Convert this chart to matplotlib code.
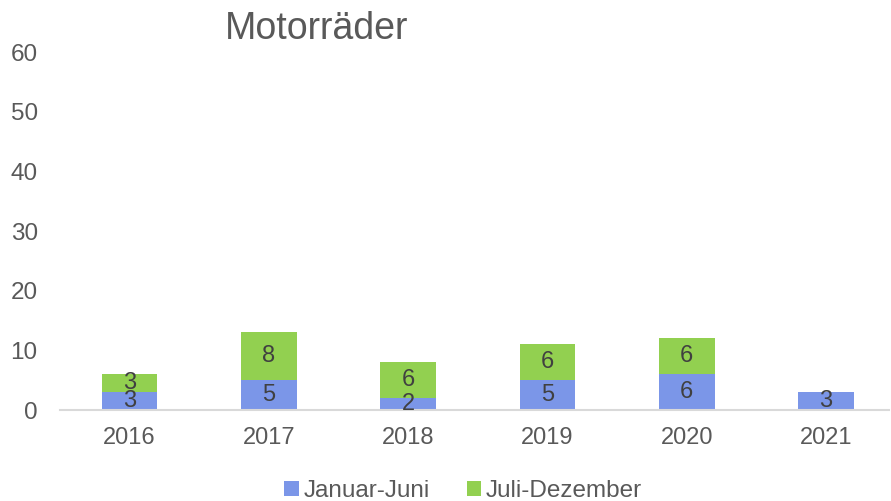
import numpy as np
import matplotlib.pyplot as plt

plt.rcParams['font.family'] = ['Liberation Sans', 'DejaVu Sans']

years = ['2016', '2017', '2018', '2019', '2020', '2021']
jan_jun = [3, 5, 2, 5, 6, 3]
jul_dez = [3, 8, 6, 6, 6, 0]

blue = '#7B96E8'
green = '#92D050'
grey = '#595959'

fig = plt.figure(figsize=(8.91, 5.01), dpi=100)
ax = fig.add_axes([0.0673, 0.1816, 0.93, 0.7146])

x = np.arange(len(years))
b1 = ax.bar(x, jan_jun, width=0.4, color=blue, label='Januar-Juni')
b2 = ax.bar(x, jul_dez, width=0.4, bottom=jan_jun, color=green, label='Juli-Dezember')

for bars, vals, base in [(b1, jan_jun, [0] * len(x)), (b2, jul_dez, jan_jun)]:
    for rect, v, b in zip(bars, vals, base):
        if v:
            ax.text(rect.get_x() + rect.get_width() / 2, b + v / 2, str(v),
                    ha='center', va='center', fontsize=17, color='#404040')

ax.set_xlim(-0.5, 5.45)
ax.set_ylim(0, 60)
ax.set_yticks(range(0, 61, 10))
ax.set_xticks(x)
ax.set_xticklabels(years)
ax.tick_params(length=0, labelsize=17, colors=grey, pad=12)
ax.tick_params(axis='y', pad=16, labelsize=17.5)
for s in ['top', 'right', 'left']:
    ax.spines[s].set_visible(False)
ax.spines['bottom'].set_color('#D9D9D9')
ax.spines['bottom'].set_linewidth(1.5)

fig.text(0.355, 0.942, 'Motorräder', ha='center', va='center', fontsize=27, color=grey)

fig.legend(loc='center', bbox_to_anchor=(0.52, 0.02), ncol=2, frameon=False,
           fontsize=17.5, labelcolor=grey, handlelength=0.6, handleheight=0.6,
           handletextpad=0.2, columnspacing=1.5)

fig.savefig('out.png', dpi=100)
